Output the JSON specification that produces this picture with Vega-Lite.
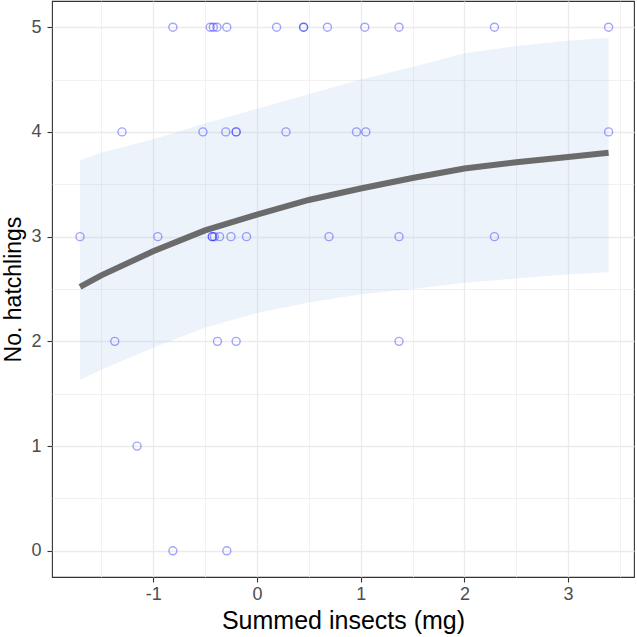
{
  "$schema": "https://vega.github.io/schema/vega-lite/v6.json",
  "width": 582,
  "height": 576,
  "autosize": {"type": "none"},
  "padding": {"left": 52, "top": 1, "right": 3, "bottom": 60},
  "background": "white",
  "config": {
    "font": "Liberation Sans",
    "view": {"stroke": "#333333", "strokeWidth": 1.1},
    "axis": {
      "domain": false,
      "grid": true,
      "gridColor": "#EBEBEB",
      "gridWidth": {"condition": {"test": "abs(datum.value % 1) < 0.001", "value": 1.3}, "value": 0.7},
      "tickColor": "#333333",
      "tickWidth": 1.1,
      "tickSize": 5,
      "tickOpacity": {"condition": {"test": "abs(datum.value % 1) < 0.001", "value": 1}, "value": 0},
      "labelExpr": "abs(datum.value % 1) < 0.001 ? '' + datum.value : ''",
      "labelFontSize": 18,
      "labelColor": "#4D4D4D",
      "titleFontWeight": "normal",
      "titleColor": "#000000"
    }
  },
  "datasets": {
    "obs": [
      {"insects": -0.81, "hatchlings": 5}, {"insects": -0.45, "hatchlings": 5}, {"insects": -0.42, "hatchlings": 5},
      {"insects": -0.385, "hatchlings": 5}, {"insects": -0.29, "hatchlings": 5}, {"insects": 0.19, "hatchlings": 5},
      {"insects": 0.45, "hatchlings": 5}, {"insects": 0.45, "hatchlings": 5}, {"insects": 0.68, "hatchlings": 5},
      {"insects": 1.04, "hatchlings": 5}, {"insects": 1.37, "hatchlings": 5}, {"insects": 2.29, "hatchlings": 5},
      {"insects": 3.39, "hatchlings": 5},
      {"insects": -1.3, "hatchlings": 4}, {"insects": -0.52, "hatchlings": 4}, {"insects": -0.3, "hatchlings": 4},
      {"insects": -0.2, "hatchlings": 4}, {"insects": -0.2, "hatchlings": 4}, {"insects": 0.28, "hatchlings": 4},
      {"insects": 0.96, "hatchlings": 4}, {"insects": 1.05, "hatchlings": 4}, {"insects": 3.39, "hatchlings": 4},
      {"insects": -1.705, "hatchlings": 3}, {"insects": -0.955, "hatchlings": 3}, {"insects": -0.43, "hatchlings": 3},
      {"insects": -0.43, "hatchlings": 3}, {"insects": -0.41, "hatchlings": 3}, {"insects": -0.36, "hatchlings": 3},
      {"insects": -0.25, "hatchlings": 3}, {"insects": -0.1, "hatchlings": 3}, {"insects": 0.695, "hatchlings": 3},
      {"insects": 1.37, "hatchlings": 3}, {"insects": 2.29, "hatchlings": 3},
      {"insects": -1.37, "hatchlings": 2}, {"insects": -0.38, "hatchlings": 2}, {"insects": -0.2, "hatchlings": 2},
      {"insects": 1.37, "hatchlings": 2},
      {"insects": -1.155, "hatchlings": 1},
      {"insects": -0.81, "hatchlings": 0}, {"insects": -0.29, "hatchlings": 0}
    ],
    "fit": [
      {"insects": -1.705, "fitted": 2.52, "lower": 1.63, "upper": 3.73},
      {"insects": -1.5, "fitted": 2.63, "lower": 1.73, "upper": 3.80},
      {"insects": -1.0, "fitted": 2.86, "lower": 1.94, "upper": 3.93},
      {"insects": -0.5, "fitted": 3.06, "lower": 2.13, "upper": 4.08},
      {"insects": 0.0, "fitted": 3.21, "lower": 2.27, "upper": 4.22},
      {"insects": 0.5, "fitted": 3.35, "lower": 2.37, "upper": 4.36},
      {"insects": 1.0, "fitted": 3.46, "lower": 2.45, "upper": 4.50},
      {"insects": 1.5, "fitted": 3.56, "lower": 2.50, "upper": 4.62},
      {"insects": 2.0, "fitted": 3.65, "lower": 2.56, "upper": 4.75},
      {"insects": 2.5, "fitted": 3.71, "lower": 2.60, "upper": 4.82},
      {"insects": 3.0, "fitted": 3.76, "lower": 2.64, "upper": 4.87},
      {"insects": 3.39, "fitted": 3.80, "lower": 2.66, "upper": 4.90}
    ]
  },
  "layer": [
    {
      "data": {"name": "fit"},
      "mark": {"type": "area", "color": "#9EC3EA", "opacity": 0.2},
      "encoding": {
        "x": {
          "field": "insects", "type": "quantitative",
          "scale": {"domain": [-1.975, 3.635], "nice": false, "zero": false},
          "axis": {
            "title": "Summed insects (mg)",
            "titleFontSize": 25,
            "values": [-1.5, -1, -0.5, 0, 0.5, 1, 1.5, 2, 2.5, 3, 3.5],
            "labelPadding": 3,
            "titlePadding": 5
          }
        },
        "y": {
          "field": "lower", "type": "quantitative",
          "scale": {"domain": [-0.25, 5.25], "nice": false, "zero": false},
          "axis": {
            "title": "No. hatchlings",
            "titleFontSize": 23,
            "values": [0, 0.5, 1, 1.5, 2, 2.5, 3, 3.5, 4, 4.5, 5],
            "labelPadding": 6,
            "titlePadding": 5
          }
        },
        "y2": {"field": "upper"}
      }
    },
    {
      "data": {"name": "fit"},
      "mark": {"type": "line", "color": "#6B6B6B", "strokeWidth": 6, "strokeCap": "butt"},
      "encoding": {
        "x": {"field": "insects", "type": "quantitative"},
        "y": {"field": "fitted", "type": "quantitative"}
      }
    },
    {
      "data": {"name": "obs"},
      "mark": {"type": "point", "shape": "circle", "filled": false, "stroke": "#0000FF", "strokeOpacity": 0.5, "strokeWidth": 1.4, "size": 64},
      "encoding": {
        "x": {"field": "insects", "type": "quantitative"},
        "y": {"field": "hatchlings", "type": "quantitative"}
      }
    }
  ]
}
